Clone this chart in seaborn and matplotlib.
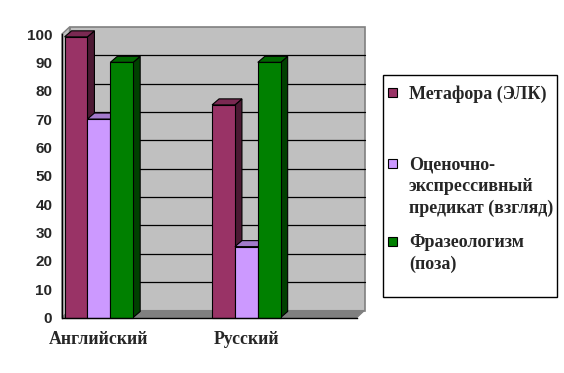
import matplotlib
matplotlib.use("Agg")
import matplotlib.pyplot as plt
import matplotlib.transforms as mtransforms
from matplotlib.patches import Polygon, Rectangle
import numpy as np
import pandas as pd
import seaborn as sns

# ---- data ----
categories = ["Английский", "", "Русский", " "]
series = ["Метафора (ЭЛК)", "Оценочно-\nэкспрессивный\nпредикат (взгляд)", "Фразеологизм\n(поза)"]
metafora = [99, 75]
ocenochno = [70, 25]
frazeo = [90, 90]
data_cats = ["Английский", "Русский"]
yticks = [0, 10, 20, 30, 40, 50, 60, 70, 80, 90, 100]

front_colors = ["#993366", "#CC99FF", "#008000"]
side_colors = ["#4C1933", "#664C80", "#004000"]
top_colors = ["#7A2952", "#A37ACC", "#006600"]

rows = []
for s, vals in zip(series, [metafora, ocenochno, frazeo]):
    for c, v in zip(data_cats, vals):
        rows.append({"cat": c, "series": s, "value": v})
df = pd.DataFrame(rows)

sns.set_style("white")
plt.rcParams["font.family"] = ["Liberation Serif", "DejaVu Serif"]

fig = plt.figure(figsize=(5.64, 3.73), dpi=100)
ax = fig.add_axes([62 / 564, (373 - 317.5) / 373, 295 / 564, 283.5 / 373])
ax.set_facecolor("none")

sns.barplot(data=df, x="cat", y="value", hue="series", order=categories,
            hue_order=series, palette=front_colors, width=0.93, dodge=True,
            saturation=1, edgecolor="black", linewidth=0.8, legend=False,
            errorbar=None, ax=ax)

ax.set_xlim(-0.5, 3.5)
ax.set_ylim(0, 100)

# 3D offsets
wall_off = mtransforms.offset_copy(ax.transData, fig=fig, x=7.5, y=7, units="dots")
x0, x1 = -0.5, 3.5
inv = ax.transData.inverted()
def off_pt(x, y, tr):
    return tuple(inv.transform(tr.transform((x, y))))

# back wall
ax.add_patch(Rectangle((x0, 0), x1 - x0, 100, transform=wall_off,
                       fc="#C0C0C0", ec="#808080", lw=1.2, zorder=0.1, clip_on=False))
# left wall
lw_pts = [(x0, 0), (x0, 100), off_pt(x0, 100, wall_off), off_pt(x0, 0, wall_off)]
ax.add_patch(Polygon(lw_pts, closed=True, fc="#C0C0C0", ec="#808080", lw=1.0,
                     zorder=0.15, clip_on=False))
# floor
fl_pts = [(x0, 0), (x1, 0), off_pt(x1, 0, wall_off), off_pt(x0, 0, wall_off)]
ax.add_patch(Polygon(fl_pts, closed=True, fc="#808080", ec="#808080", lw=0.8,
                     zorder=0.2, clip_on=False))
# gridlines on back wall
for v in yticks[1:-1]:
    ax.plot([x0, x1], [v, v], color="black", lw=0.9, transform=wall_off,
            zorder=0.3, clip_on=False)

# 3D bar faces
bar_off = mtransforms.offset_copy(ax.transData, fig=fig, x=7, y=6, units="dots")
bars = [p for p in ax.patches if isinstance(p, Rectangle) and p.get_height() > 0
        and p.get_width() < 1]
bars.sort(key=lambda p: p.get_x())
for i, p in enumerate(bars):
    bx0, by0 = p.get_x(), p.get_y()
    bx1, by1 = bx0 + p.get_width(), by0 + p.get_height()
    fc = matplotlib.colors.to_hex(p.get_facecolor())
    k = [c.lower() for c in front_colors].index(fc.lower())
    side = [(bx1, by0), (bx1, by1), off_pt(bx1, by1, bar_off), off_pt(bx1, by0, bar_off)]
    top = [(bx0, by1), (bx1, by1), off_pt(bx1, by1, bar_off), off_pt(bx0, by1, bar_off)]
    z = 2 + 2 * i
    ax.add_patch(Polygon(side, closed=True, fc=side_colors[k], ec="black", lw=0.8,
                         zorder=z, clip_on=False))
    ax.add_patch(Polygon(top, closed=True, fc=top_colors[k], ec="black", lw=0.8,
                         zorder=z, clip_on=False))
    p.set_zorder(z + 1)
    p.set_clip_on(False)

# axes styling
for s in ["top", "right"]:
    ax.spines[s].set_visible(False)
for s in ["left", "bottom"]:
    ax.spines[s].set_color("black")
    ax.spines[s].set_linewidth(1.0)
    ax.spines[s].set_zorder(50)

ax.set_yticks(yticks)
ax.set_yticklabels([str(v) for v in yticks], fontfamily="Liberation Sans",
                   fontsize=11, fontweight="bold")
ax.tick_params(axis="y", direction="out", length=4, width=1, pad=3, color="black")

ax.set_xticks(np.arange(-0.5, 3.6, 1.0))
ax.set_xticklabels([])
ax.tick_params(axis="x", which="major", direction="out", length=4, width=1, color="black")
ax.set_xticks(np.arange(len(categories)), minor=True)
ax.set_xticklabels(categories, minor=True, fontsize=12.8, fontweight="bold")
ax.tick_params(axis="x", which="minor", length=0, pad=10)
ax.set_xlabel("")
ax.set_ylabel("")

# legend (manual, Excel-style)
fig.patches.append(Rectangle((383 / 564, 1 - 297 / 373), (557 - 383) / 564, (297 - 75) / 373,
                             transform=fig.transFigure, fc="white", ec="black", lw=1.0))
legend_y = [92, 163, 241]
for lab, col, yy in zip(series, front_colors, legend_y):
    fig.patches.append(Rectangle((388 / 564, 1 - (yy + 4.5) / 373), 9 / 564, 9 / 373,
                                 transform=fig.transFigure, fc=col, ec="black", lw=0.8))
    fig.text(409 / 564, 1 - (yy - 7) / 373, lab, fontsize=13, fontweight="bold",
             va="top", ha="left", linespacing=1.38)

fig.savefig("out.png", dpi=100)
